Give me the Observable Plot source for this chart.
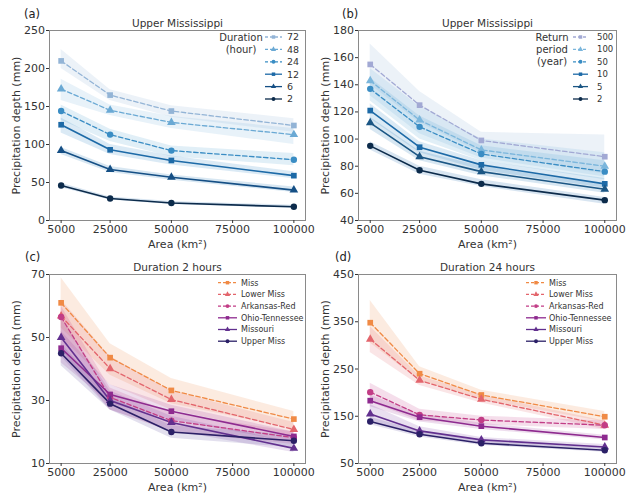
<!DOCTYPE html>
<html><head><meta charset="utf-8">
<script src="https://cdn.jsdelivr.net/npm/d3@7"></script>
<script src="https://cdn.jsdelivr.net/npm/@observablehq/plot@0.6"></script>
<style>
body{margin:0;background:#fff;}
#wrap{position:relative;width:626px;height:496px;background:#fff;font-family:"DejaVu Sans",sans-serif;overflow:hidden;}
#wrap svg{position:absolute;overflow:visible;}
</style></head>
<body><div id="wrap"></div>
<script>
const areas = [5000, 25000, 50000, 100000];
const xTicks = [5000, 25000, 50000, 75000, 100000];

// Panel (a): durations (hour), Upper Mississippi
const durations = ["72", "48", "24", "12", "6", "2"];
const aMean = [[210,165,144,125],[173,145,129,113],[144,113,92,80],[126,93,79,59],[92,67,57,40],[46,29,23,18]];
const aLow  = [[200,158,136,116],[158,138,121,100],[132,104,84,72],[115,87,73,55],[87,63,53,37],[43,27,21,16]];
const aHigh = [[225,172,151,134],[186,152,137,121],[152,120,98,88],[135,100,85,64],[96,71,60,44],[49,31,25,20]];
const aTicks = [0, 50, 100, 150, 200, 250];

// Panel (b): return periods (year), Upper Mississippi
const periods = ["500", "100", "50", "10", "5", "2"];
const bMean = [[155,125,99,87],[143,114,92,80],[137,109,89,76],[121,94,81,67],[112,87,76,63],[95,77,67,55]];
const bLow  = [[140,112,90,74],[132,104,86,72],[128,100,84,70],[115,90,77,64],[107,84,73,60],[92,74,65,52]];
const bHigh = [[170,135,105,103],[152,124,100,90],[145,117,95,84],[126,98,84,71],[116,91,80,66],[98,80,70,57]];
const bTicks = [40, 60, 80, 100, 120, 140, 160, 180];

// Panels (c), (d): regions
const regions = ["Miss", "Lower Miss", "Arkansas-Red", "Ohio-Tennessee", "Missouri", "Upper Miss"];
const cMean = [[61,43.6,33.2,24.1],[56.8,40.1,30.3,20.8],[56.5,31,23.6,18.2],[46.6,31.9,26.6,18.6],[50,30,23,14.8],[45,29,20,17.2]];
const cLow  = [[53,38,29,21],[50,35,27,18.5],[46,27,20,16],[42,29,24,16.5],[44,27,20.5,13.5],[41,27,18,15]];
const cHigh = [[69,48,37,26.5],[62,44,33,23],[60,34,26,20],[52,35,28.5,20],[56,33,25,16.5],[48,31,22,19]];
const cTicks = [10, 30, 50, 70];

const dMean = [[348,240,195,149],[313,226,186,131],[201,153,142,131],[183,148,129,105],[155,119,100,85],[139,112,93,78]];
const dLow  = [[305,225,185,138],[285,215,178,122],[180,140,132,122],[170,138,122,100],[140,110,93,80],[132,106,88,74]];
const dHigh = [[395,255,205,160],[340,235,195,140],[220,165,150,140],[195,155,135,110],[175,128,105,90],[148,118,97,83]];
const dTicks = [50, 150, 250, 350, 450];

const blues = ["#93b4d6", "#6aa9d4", "#3a8dc4", "#1d6aa7", "#154f85", "#0c2b4b"];
const bluesB = ["#a2a9d4", "#7bb6dc", "#3a8dc4", "#1d6aa7", "#1b5684", "#0c2b4b"];
const blueBands = ["#9fbcdc", "#8cbfe0", "#6aaed6", "#4a98cc", "#3b86c0", "#3b7fb8"];
const warm = ["#f08a45", "#e3656c", "#c23d86", "#8e2a8f", "#62308f", "#2b2067"];
const warmBands = ["#f08a45", "#e3656c", "#c23d86", "#9a3a9c", "#7a44a6", "#5a4a9a"];
const symbols = ["square", "triangle", "circle", "square", "triangle", "circle"];

function table(names, mean, lo, hi) {
  const rows = [];
  names.forEach((s, i) => areas.forEach((a, j) => rows.push({series: s, idx: i, area: a, mean: mean[i][j], lo: lo[i][j], hi: hi[i][j]})));
  return rows;
}

function panel(o) {
  const data = table(o.names, o.mean, o.lo, o.hi);
  const dashed = data.filter(d => d.idx < 3);
  const solid = data.filter(d => d.idx >= 3);
  const svg = Plot.plot({
    width: o.width, height: o.height,
    marginLeft: o.ml, marginRight: o.mr, marginTop: o.mt, marginBottom: o.mb,
    style: {fontFamily: "DejaVu Sans, sans-serif", fontSize: "11px", color: "#333", background: "transparent"},
    x: {domain: [250, 104750]},
    y: {domain: o.ydomain},
    color: {domain: o.names, range: o.colors},
    symbol: {domain: o.names, range: symbols},
    marks: [
      Plot.areaY(data, {x: "area", y1: "lo", y2: "hi", z: "series", fill: d => o.bands[d.idx], fillOpacity: o.bandOpacity, curve: "linear"}),
      Plot.line(dashed, {x: "area", y: "mean", z: "series", stroke: "series", strokeWidth: 1.3, strokeDasharray: "4.5,2.5"}),
      Plot.line(solid, {x: "area", y: "mean", z: "series", stroke: "series", strokeWidth: 1.6}),
      Plot.dot(data, {x: "area", y: "mean", fill: "series", symbol: "series", r: 3.2, stroke: "none"}),
      Plot.frame({stroke: "#8a8a8a"}),
      Plot.axisX({ticks: xTicks, tickFormat: d => String(d), tickSize: 3, tickPadding: 2, label: "Area (km²)", labelAnchor: "center", labelArrow: "none", labelOffset: 27, fontSize: 11}),
      Plot.axisY({ticks: o.yticks, tickFormat: d => String(d), tickSize: 3, tickPadding: 1.5, label: "Precipitation depth (mm)", labelAnchor: "center", labelArrow: "none", labelOffset: o.ylo, fontSize: 11}),
      Plot.text([o.title], {frameAnchor: "top", dy: -4, lineAnchor: "bottom", fontSize: 10.5, fill: "#333"})
    ]
  });
  svg.style.left = o.left + "px";
  svg.style.top = o.top + "px";
  const g = d3.select(svg).append("g").attr("font-family", "DejaVu Sans, sans-serif").attr("text-anchor", "start");
  // panel tag
  g.append("text").attr("x", o.tagX).attr("y", o.tagY).attr("dy", "0.35em").attr("text-anchor", "start")
    .attr("font-size", 11.5).attr("fill", "#222").text(o.tag);
  // legend
  const L = o.legend;
  o.names.forEach((s, i) => {
    const y = L.y0 + i * L.dy;
    g.append("line").attr("x1", L.x1).attr("x2", L.x2).attr("y1", y).attr("y2", y)
      .attr("stroke", o.colors[i]).attr("stroke-width", 1.3).attr("stroke-dasharray", i < 3 ? "3,2" : null);
    const cx = (L.x1 + L.x2) / 2;
    g.append("path").attr("d", d3.symbol(symbols[i] === "square" ? d3.symbolSquare : symbols[i] === "triangle" ? d3.symbolTriangle : d3.symbolCircle, 12)())
      .attr("transform", `translate(${cx},${y})`).attr("fill", o.colors[i]);
    g.append("text").attr("x", L.tx).attr("y", y).attr("dy", "0.35em").attr("text-anchor", "start")
      .attr("font-size", L.fs).attr("fill", "#333").text(s);
  });
  if (L.title) {
    L.title.forEach((t, k) => {
      g.append("text").attr("x", L.titleX).attr("y", L.y0 + k * L.dy).attr("dy", "0.35em")
        .attr("text-anchor", "middle").attr("font-size", 10).attr("fill", "#333").text(t);
    });
  }
  document.getElementById("wrap").appendChild(svg);
}

panel({names: durations, mean: aMean, lo: aLow, hi: aHigh, colors: blues, bands: blueBands, bandOpacity: 0.2,
  ydomain: [0, 250], yticks: aTicks, title: "Upper Mississippi", tag: "(a)", tagX: 24, tagY: 14,
  left: 0, top: 0, width: 313, height: 252, ml: 49, mr: 8, mt: 30, mb: 32, ylo: 37,
  legend: {x1: 265, x2: 282, tx: 287, y0: 37, dy: 12.4, fs: 9.5, title: ["Duration", "(hour)"], titleX: 241}});

panel({names: periods, mean: bMean, lo: bLow, hi: bHigh, colors: bluesB, bands: blueBands, bandOpacity: 0.2,
  ydomain: [40, 180], yticks: bTicks, title: "Upper Mississippi", tag: "(b)", tagX: 29, tagY: 14,
  left: 313, top: 0, width: 313, height: 252, ml: 45, mr: 10, mt: 30, mb: 32, ylo: 37,
  legend: {x1: 260, x2: 275, tx: 284, y0: 37, dy: 12.4, fs: 8.5, title: ["Return", "period", "(year)"], titleX: 239}});

panel({names: regions, mean: cMean, lo: cLow, hi: cHigh, colors: warm, bands: warmBands, bandOpacity: 0.17,
  ydomain: [10, 70], yticks: cTicks, title: "Duration 2 hours", tag: "(c)", tagX: 25, tagY: 13,
  left: 0, top: 244, width: 313, height: 252, ml: 49, mr: 8, mt: 30, mb: 33, ylo: 37,
  legend: {x1: 218, x2: 237, tx: 241, y0: 38.7, dy: 11.7, fs: 8}});

panel({names: regions, mean: dMean, lo: dLow, hi: dHigh, colors: warm, bands: warmBands, bandOpacity: 0.17,
  ydomain: [50, 450], yticks: dTicks, title: "Duration 24 hours", tag: "(d)", tagX: 22, tagY: 13,
  left: 313, top: 244, width: 313, height: 252, ml: 45, mr: 10, mt: 30, mb: 33, ylo: 37,
  legend: {x1: 213, x2: 233, tx: 236, y0: 38.7, dy: 11.7, fs: 8}});
</script></body></html>
